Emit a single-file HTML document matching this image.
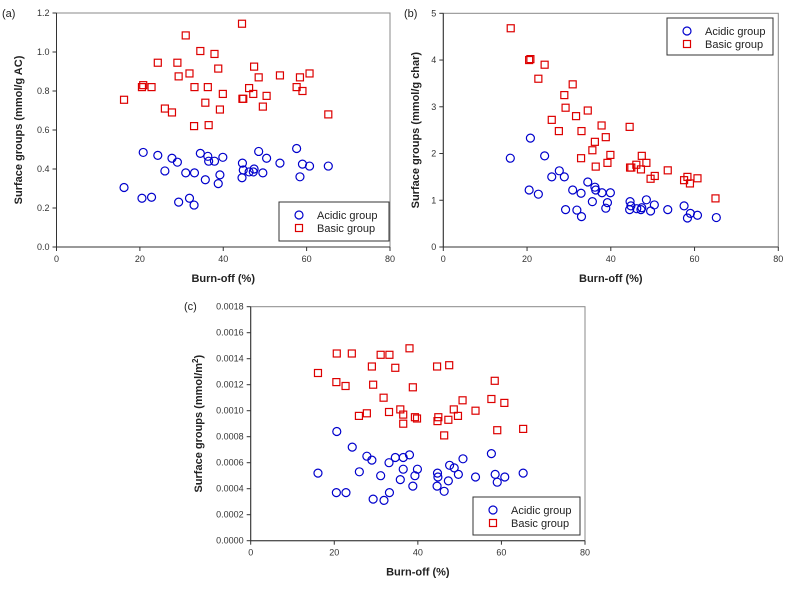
<!DOCTYPE html>
<html><head><meta charset="utf-8"><style>
body{margin:0;background:#fff;width:791px;height:584px;overflow:hidden}
svg{font-family:"Liberation Sans",Arial,sans-serif}
</style></head><body>
<svg id="chart" width="791" height="584"></svg>
<script>
const burnA=[16.2,20.5,20.8,22.8,24.3,26,27.7,29,29.3,31,31.9,33,33.1,34.5,35.7,36.3,36.5,37.9,38.8,39.2,39.9,44.5,44.6,44.8,46.2,47.2,47.4,48.5,49.5,50.4,53.6,57.6,58.4,59,60.7,65.2];
const basicA=[0.755,0.82,0.83,0.82,0.945,0.71,0.69,0.945,0.875,1.085,0.89,0.62,0.82,1.005,0.74,0.82,0.625,0.99,0.915,0.705,0.785,1.145,0.76,0.76,0.815,0.785,0.925,0.87,0.72,0.775,0.88,0.82,0.87,0.8,0.89,0.68];
const acidA=[0.305,0.25,0.485,0.255,0.47,0.39,0.455,0.435,0.23,0.38,0.25,0.215,0.38,0.48,0.345,0.465,0.44,0.44,0.325,0.37,0.46,0.355,0.43,0.395,0.385,0.385,0.4,0.49,0.38,0.455,0.43,0.505,0.36,0.425,0.415,0.415];
const basicBx=[16.1,20.5,20.8,22.7,24.2,25.9,27.6,28.9,29.2,30.9,31.7,32.9,33,34.5,35.6,36.2,36.4,37.8,38.8,39.2,39.9,44.5,44.6,44.9,46.1,47.2,47.4,48.5,49.5,50.5,53.6,57.5,58.3,58.9,60.7,65];
const basicB=[4.68,4.0,4.02,3.6,3.9,2.72,2.48,3.25,2.98,3.48,2.8,1.9,2.48,2.92,2.07,2.25,1.72,2.6,2.35,1.8,1.97,2.57,1.7,1.7,1.76,1.66,1.95,1.8,1.46,1.52,1.64,1.43,1.5,1.36,1.47,1.04];
const acidBx=[16,20.5,20.8,22.7,24.2,25.9,27.7,28.9,29.2,30.9,31.9,32.9,33,34.5,35.6,36.2,36.4,37.9,38.8,39.2,39.9,44.5,44.6,44.8,46.2,47.2,47.4,48.5,49.5,50.4,53.6,57.5,58.3,59,60.7,65.2];
const acidB=[1.9,1.22,2.33,1.13,1.95,1.5,1.63,1.5,0.8,1.22,0.79,1.15,0.65,1.39,0.97,1.28,1.22,1.16,0.83,0.95,1.16,0.8,0.97,0.88,0.82,0.8,0.84,1.01,0.77,0.9,0.8,0.88,0.62,0.72,0.68,0.63];
const basicCx=[16.1,20.6,20.5,22.7,24.2,25.9,27.8,29,29.3,31.1,31.8,33.2,33.1,34.6,35.8,36.5,36.5,38,38.8,39.3,39.8,44.6,44.7,44.9,46.3,47.5,47.3,48.6,49.6,50.7,53.8,57.6,58.4,59,60.7,65.2];
const basicC=[0.00129,0.00144,0.00122,0.00119,0.00144,0.00096,0.00098,0.00134,0.0012,0.00143,0.0011,0.00143,0.00099,0.00133,0.00101,0.00097,0.0009,0.00148,0.00118,0.00095,0.00094,0.00134,0.00092,0.00095,0.00081,0.00135,0.00093,0.00101,0.00096,0.00108,0.001,0.00109,0.00123,0.00085,0.00106,0.00086];
const acidCx=[16.1,20.6,20.5,22.8,24.3,26,27.8,29,29.3,31.1,31.9,33.1,33.2,34.6,35.8,36.5,36.5,38,38.8,39.3,39.9,44.6,44.7,44.8,46.3,47.3,47.6,48.7,49.7,50.8,53.8,57.6,58.5,59,60.8,65.2];
const acidC=[0.00052,0.00084,0.00037,0.00037,0.00072,0.00053,0.00065,0.00062,0.00032,0.0005,0.00031,0.0006,0.00037,0.00064,0.00047,0.00055,0.00064,0.00066,0.00042,0.0005,0.00055,0.00042,0.00052,0.00049,0.00038,0.00046,0.00058,0.00056,0.00051,0.00063,0.00049,0.00067,0.00051,0.00045,0.00049,0.00052];
const xTicks=[0,20,40,60,80];
const yTicksA=[0,0.2,0.4,0.6,0.8,1.0,1.2];
const yTicksB=[0,1,2,3,4,5];
const yTicksC=[0,0.0002,0.0004,0.0006,0.0008,0.001,0.0012,0.0014,0.0016,0.0018];

const NS="http://www.w3.org/2000/svg";
const svg=document.getElementById('chart');
function el(tag,attrs,parent){const e=document.createElementNS(NS,tag);for(const k in attrs)e.setAttribute(k,attrs[k]);(parent||svg).appendChild(e);return e;}

function panel(p){
  const g=el('g',{});
  
  
  const sx=v=>p.x0+(v-0)/80*(p.x1-p.x0);
  const sy=v=>p.y0-(v/p.ymax)*(p.y0-p.y1);
  const frame=el('rect',{x:p.x0,y:p.y1,width:p.x1-p.x0,height:p.y0-p.y1,fill:'none',stroke:'#888','stroke-width':1},g);
  
  
  el('line',{x1:p.x0,y1:p.y1,x2:p.x0,y2:p.y0,stroke:'#333'},g);
  el('line',{x1:p.x0,y1:p.y0,x2:p.x1,y2:p.y0,stroke:'#333'},g);
  xTicks.forEach(t=>{
    el('line',{x1:sx(t),y1:p.y0,x2:sx(t),y2:p.y0+4,stroke:'#333'},g);
    const tx=el('text',{x:sx(t),y:p.y0+15,'text-anchor':'middle','font-size':9,fill:'#333'},g);
    tx.textContent=t;
    
    
  });
  p.yTicks.forEach((t,i)=>{
    el('line',{x1:p.x0-4,y1:sy(t),x2:p.x0,y2:sy(t),stroke:'#333'},g);
    const tx=el('text',{x:p.x0-7,y:sy(t)+3,'text-anchor':'end','font-size':9,fill:'#333'},g);
    tx.textContent=p.fmt(t);
    
    
  });
  const xt=el('text',{x:(p.x0+p.x1)/2,y:p.y0+35,'text-anchor':'middle','font-size':11,'font-weight':'bold',fill:'#222'},g);
  xt.textContent='Burn-off (%)';
  
  
  const yt=el('text',{x:0,y:0,'text-anchor':'middle','font-size':11,'font-weight':'bold',fill:'#222',transform:`translate(${p.ytx},${(p.y0+p.y1)/2}) rotate(-90)`},g);
  yt.innerHTML=p.ytitle;
  
  
  const lab=el('text',{x:p.labx,y:p.laby,'font-size':11,fill:'#222'},g);
  lab.textContent=p.label;
  
  
  p.bx.forEach((x,i)=>{
    const r=el('rect',{x:sx(x)-3.5,y:sy(p.b[i])-3.5,width:7,height:7,fill:'none',stroke:'#d00','stroke-width':1.2},g);
    
    
  });
  p.ax.forEach((x,i)=>{
    const c=el('circle',{cx:sx(x),cy:sy(p.a[i]),r:4,fill:'none',stroke:'#00c','stroke-width':1.2},g);
    
    
  });
  const L=p.leg;
  const lg=el('g',{},g);
  
  
  el('rect',{x:L[0],y:L[1],width:L[2],height:L[3],fill:'#fff',stroke:'#333'},lg);
  el('circle',{cx:L[0]+20,cy:L[1]+13,r:4,fill:'none',stroke:'#00c','stroke-width':1.2},lg);
  el('rect',{x:L[0]+16.5,y:L[1]+22.5,width:7,height:7,fill:'none',stroke:'#d00','stroke-width':1.2},lg);
  const t1=el('text',{x:L[0]+38,y:L[1]+17,'font-size':11,fill:'#222'},lg);t1.textContent='Acidic group';
  
  
  const t2=el('text',{x:L[0]+38,y:L[1]+30,'font-size':11,fill:'#222'},lg);t2.textContent='Basic group';
  
  
}
panel({name:'panel-a',x0:56.5,x1:390,y0:247,y1:13,ymax:1.2,yTicks:yTicksA,fmt:t=>t.toFixed(1),
  ytitle:'Surface groups (mmol/g AC)',ytx:22,labx:2,laby:17,label:'(a)',
  bx:burnA,b:basicA,ax:burnA,a:acidA,leg:[279,202,110,39]});
panel({name:'panel-b',x0:443.3,x1:778.3,y0:247,y1:13.3,ymax:5,yTicks:yTicksB,fmt:t=>t,
  ytitle:'Surface groups (mmol/g char)',ytx:419,labx:404,laby:17,label:'(b)',
  bx:basicBx,b:basicB,ax:acidBx,a:acidB,leg:[667,18,106,37]});
panel({name:'panel-c',x0:250.7,x1:585,y0:540.7,y1:306.7,ymax:0.0018,yTicks:yTicksC,fmt:t=>t.toFixed(4),
  ytitle:'Surface groups (mmol/m<tspan dy="-4" font-size="8">2</tspan><tspan dy="4">)</tspan>',ytx:202,labx:184,laby:310,label:'(c)',
  bx:basicCx,b:basicC,ax:acidCx,a:acidC,leg:[473,497,107,38]});
</script>
</body></html>
